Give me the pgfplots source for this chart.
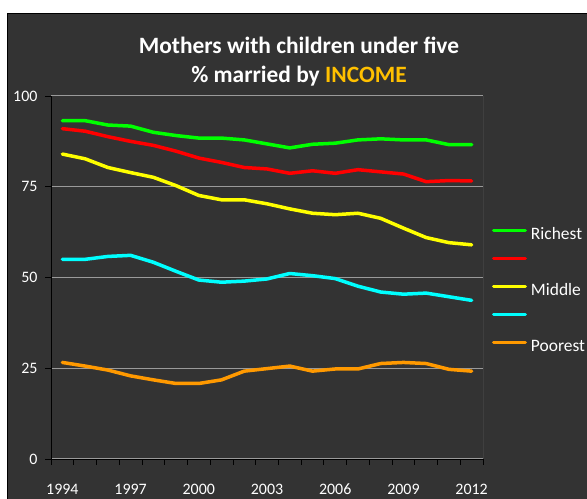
\documentclass[border=0pt]{standalone}
\usepackage{pgfplots}
\pgfplotsset{compat=1.18}
\usepackage{fontspec}
\setmainfont{Carlito}
\definecolor{bg}{HTML}{333333}
\definecolor{cgreen}{HTML}{00FF00}
\definecolor{cred}{HTML}{FF0000}
\definecolor{cyellow}{HTML}{FFFF00}
\definecolor{ccyan}{HTML}{00FFFF}
\definecolor{corange}{HTML}{FF9900}
\definecolor{gold}{HTML}{FFC000}
\definecolor{gridc}{HTML}{9A9A9A}
\begin{document}
\begin{tikzpicture}[x=1bp,y=1bp]
\path[use as bounding box] (0,0) rectangle (587,499);
\fill[white] (0,0) rectangle (587,499);
\filldraw[fill=bg, draw=black, line width=1bp] (7.3,-5) rectangle (595,485.7);
\node[align=center, text=white, font=\bfseries\fontsize{23.5}{29}\selectfont] at (299,437.5)
  {Mothers with children under five\\\% married by \textcolor{gold}{INCOME}};
\begin{axis}[
  at={(51bp,40bp)}, anchor=south west, scale only axis,
  width=432bp, height=363bp,
  xmin=1993.5, xmax=2012.5, ymin=0, ymax=100,
  axis x line*=bottom, axis y line*=left,
  axis line style={black, line width=0.8bp, -},
  xtick={1994,1997,2000,2003,2006,2009,2012},
  minor xtick={1993.5,1994.5,1995.5,1996.5,1997.5,1998.5,1999.5,2000.5,2001.5,2002.5,2003.5,2004.5,2005.5,2006.5,2007.5,2008.5,2009.5,2010.5,2011.5,2012.5},
  major x tick style={draw=none},
  minor x tick style={black, line width=0.8bp},
  y tick style={black, line width=0.8bp},
  tick align=outside,
  minor tick length=6bp, major tick length=6bp,
  ytick={0,25,50,75,100},
  ymajorgrids, grid style={gridc, line width=1bp},
  /pgf/number format/assume math mode=true,
  /pgf/number format/1000 sep={},
  tick label style={text=white, font=\fontsize{16}{18}\selectfont},
  xticklabel style={yshift=-14bp, text height=11.5bp, text depth=0bp, anchor=north},
  yticklabel style={xshift=-4bp},
  legend style={draw=none, fill=none, text=white, font=\fontsize{17.5}{20}\selectfont,
    at={(1.0208,0.462)}, anchor=west, inner sep=0pt, outer sep=0pt,
    row sep=12bp, column sep=4bp,
    nodes={inner sep=0pt, text height=12bp, text depth=4bp}},
  legend cell align=left,
  legend image code/.code={\draw[#1, line width=3bp] (0bp,5bp) -- (32bp,5bp);},
  every axis plot/.append style={line width=3.5bp, line join=round, line cap=round},
]
\addplot[cgreen] coordinates {(1994,93.2)(1995,93.2)(1996,92.0)(1997,91.7)(1998,90.0)(1999,89.1)(2000,88.4)(2001,88.4)(2002,87.9)(2003,86.8)(2004,85.7)(2005,86.7)(2006,87.0)(2007,87.9)(2008,88.2)(2009,87.9)(2010,87.9)(2011,86.6)(2012,86.6)};
\addlegendentry{Richest}
\addplot[cred] coordinates {(1994,91.0)(1995,90.3)(1996,88.8)(1997,87.5)(1998,86.4)(1999,84.8)(2000,82.9)(2001,81.7)(2002,80.3)(2003,79.9)(2004,78.7)(2005,79.4)(2006,78.7)(2007,79.7)(2008,79.1)(2009,78.5)(2010,76.4)(2011,76.7)(2012,76.6)};
\addlegendentry{\mbox{}}
\addplot[cyellow] coordinates {(1994,84.0)(1995,82.7)(1996,80.3)(1997,78.9)(1998,77.6)(1999,75.3)(2000,72.6)(2001,71.4)(2002,71.4)(2003,70.3)(2004,68.9)(2005,67.7)(2006,67.3)(2007,67.7)(2008,66.3)(2009,63.6)(2010,61.0)(2011,59.6)(2012,59.0)};
\addlegendentry{Middle}
\addplot[ccyan] coordinates {(1994,55.0)(1995,55.0)(1996,55.8)(1997,56.1)(1998,54.2)(1999,51.7)(2000,49.3)(2001,48.7)(2002,49.0)(2003,49.6)(2004,51.1)(2005,50.5)(2006,49.7)(2007,47.6)(2008,46.0)(2009,45.4)(2010,45.7)(2011,44.7)(2012,43.7)};
\addlegendentry{\mbox{}}
\addplot[corange] coordinates {(1994,26.6)(1995,25.6)(1996,24.5)(1997,22.9)(1998,21.8)(1999,20.8)(2000,20.8)(2001,21.8)(2002,24.2)(2003,24.9)(2004,25.6)(2005,24.2)(2006,24.8)(2007,24.8)(2008,26.3)(2009,26.6)(2010,26.3)(2011,24.7)(2012,24.2)};
\addlegendentry{Poorest}
\draw[gridc, line width=1bp] (rel axis cs:1,0) -- (rel axis cs:1,1);
\end{axis}
\end{tikzpicture}
\end{document}
